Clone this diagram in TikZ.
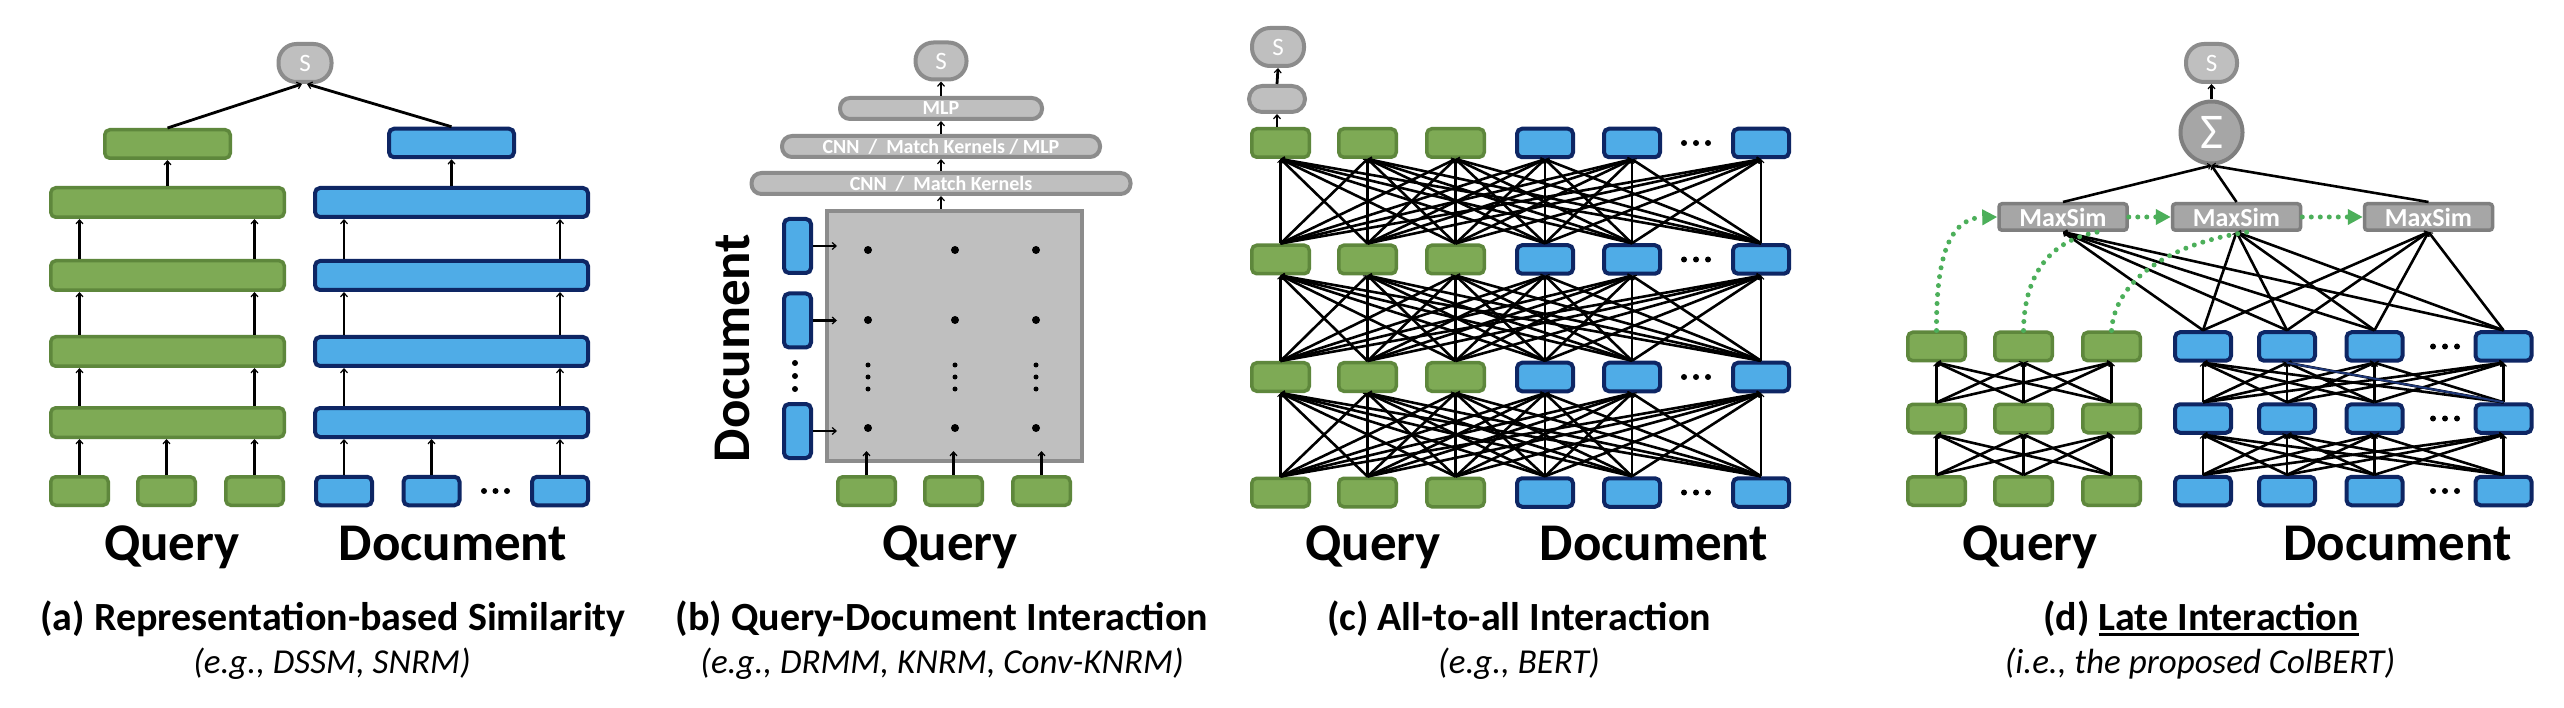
\documentclass[tikz,border=0pt]{standalone}
\usepackage{fontspec}
\setmainfont{Carlito}
\usetikzlibrary{arrows.meta,calc}
\definecolor{gfill}{RGB}{126,170,85}
\definecolor{gline}{RGB}{94,135,60}
\definecolor{bfill}{RGB}{79,172,231}
\definecolor{bline}{RGB}{14,38,100}
\definecolor{sfill}{RGB}{191,191,191}
\definecolor{sline}{RGB}{140,140,140}
\definecolor{mfill}{RGB}{166,166,166}
\definecolor{mline}{RGB}{127,127,127}
\definecolor{dotgreen}{RGB}{76,175,90}
\definecolor{navyl}{RGB}{31,56,120}
\newcommand{\myfs}[1]{\fontsize{#1}{#1}\selectfont}
\newsavebox\myulbox
\newcommand{\myul}[1]{\sbox\myulbox{#1}\rlap{\rule[-6pt]{\wd\myulbox}{3pt}}\usebox\myulbox}
\tikzset{
  gbox/.style={draw=gline, fill=gfill, line width=3.5pt, rounded corners=5pt, inner sep=0pt, minimum width=57.5pt, minimum height=28.5pt},
  bbox/.style={gbox, draw=bline, fill=bfill, line width=4pt},
  oval/.style={draw=sline, fill=sfill, line width=4pt, rounded corners=18pt, inner sep=0pt, text=white, font=\myfs{25}},
  pill/.style={draw=sline, fill=sfill, line width=4pt, rounded corners=10pt, inner sep=0pt, text=white, font=\bfseries\myfs{20}, minimum height=21pt},
  msim/.style={draw=mline, fill=mfill, line width=3.5pt, rounded corners=3pt, inner sep=0pt, text=white, font=\bfseries\myfs{26}, minimum width=128pt, minimum height=26.5pt},
  arr/.style={line width=2.8pt, -{Straight Barb[length=4pt,width=7pt,line width=1.2pt]}},
  lnk/.style={line width=2.6pt, -{Straight Barb[length=3pt,width=6pt,line width=1pt]}},
  lbl/.style={font=\bfseries\myfs{53}, anchor=base, inner sep=0pt},
  captxt/.style={font=\bfseries\myfs{40}, anchor=base, inner sep=0pt},
  subcap/.style={font=\itshape\myfs{35}, anchor=base, inner sep=0pt},
  gdot/.style={draw=dotgreen, line width=5pt, dash pattern=on 0pt off 9pt, line cap=round},
  gtip/.style={-{Triangle[length=15pt,width=15pt]}}
}
\begin{document}
\begin{tikzpicture}[x=1pt,y=-1pt]
\useasboundingbox (0,0) rectangle (2564,708);
\fill[white] (0,0) rectangle (2564,708);

% ================= (a) =================
\node[oval, minimum width=53pt, minimum height=38pt] (aS) at (305,63) {S};
\node[gbox, minimum width=125.5pt] (agt) at (167.5,144) {};
\node[bbox, minimum width=125pt] (adt) at (451.5,143) {};
\foreach \i/\y in {1/202.5,2/275.5,3/351.5,4/422.5} {
  \node[gbox, minimum width=233.5pt, minimum height=29.5pt] (ag\i) at (167.5,\y) {};
  \node[bbox, minimum width=273pt, minimum height=29pt] (ab\i) at (451.5,\y) {};
}
\node[gbox] (aq1) at (79.5,491) {};
\node[gbox] (aq2) at (166.5,491) {};
\node[gbox] (aq3) at (254.5,491) {};
\node[bbox, minimum width=56pt] (ad1) at (344,491) {};
\node[bbox, minimum width=56pt] (ad2) at (431.5,491) {};
\node[bbox, minimum width=56pt] (ad3) at (560,491) {};
\foreach \x in {484,495.5,507} \fill (\x,491) circle (3pt);
\foreach \n in {aq1,aq2,aq3} \draw[arr] (\n.north) -- (\n.north |- ag4.south);
\foreach \n in {ad1,ad2,ad3} \draw[arr] (\n.north) -- (\n.north |- ab4.south);
\foreach \lo/\hi in {4/3,3/2,2/1} {
  \foreach \n in {aq1,aq3} \draw[arr] (ag\lo.north -| \n.north) -- (ag\hi.south -| \n.north);
  \foreach \n in {ad1,ad3} \draw[arr] (ab\lo.north -| \n.north) -- (ab\hi.south -| \n.north);
}
\draw[arr] (ag1.north -| agt.south) -- (agt.south);
\draw[arr] (ab1.north -| adt.south) -- (adt.south);
\draw[arr] (agt.north) -- ([xshift=-3pt]aS.south);
\draw[arr] (adt.north) -- ([xshift=2pt]aS.south);
\node[lbl] (aQ) at (172,560) {Query};
\node[lbl] (aD) at (453,560) {Document};
\node[captxt] (acap) at (333,630) {(a) Representation-based Similarity};
\node[subcap] (asub) at (332,673) {(e.g., DSSM, SNRM)};

% ================= (b) =================
\node[oval, minimum width=51pt, minimum height=37pt] (bS) at (941,61) {S};
\node[pill, minimum width=202pt] (bmlp) at (941,108.5) {MLP};
\node[pill, minimum width=318pt] (bc2) at (941,146.5) {CNN\ \ /\ \ Match Kernels / MLP};
\node[pill, minimum width=379pt] (bc1) at (941,183.5) {CNN\ \ /\ \ Match Kernels};
\node[draw=sline, fill=sfill, line width=4pt, minimum width=255pt, minimum height=250pt, inner sep=0pt] (bM) at (954.5,336) {};
\node[bbox, minimum width=27pt, minimum height=54pt] (bd1) at (797.5,246) {};
\node[bbox, minimum width=27pt, minimum height=54pt] (bd2) at (797.5,320.5) {};
\node[bbox, minimum width=27pt, minimum height=54pt] (bd3) at (797.5,431) {};
\foreach \i in {1,2,3} \draw[arr] (bd\i.east) -- ([xshift=12pt]bM.west |- bd\i.east);
\foreach \y in {363,376,389} \fill (795,\y) circle (3pt);
\foreach \x in {868,955,1036} {
  \foreach \y in {250,320,428} \fill (\x,\y) circle (4pt);
  \foreach \y in {365,377,389} \fill (\x,\y) circle (2.5pt);
}
\node[gbox] (bq1) at (866.5,491) {};
\node[gbox] (bq2) at (953.5,491) {};
\node[gbox] (bq3) at (1041.5,491) {};
\foreach \i in {1,2,3} \draw[arr] (bq\i.north) -- ([yshift=12pt]bq\i.north |- bM.south);
\draw[arr] (bc1.south |- bM.north) -- (bc1.south);
\draw[arr] (bc1.north) -- (bc2.south);
\draw[arr] (bc2.north) -- (bmlp.south);
\draw[arr] (bmlp.north) -- (bS.south);
\node[lbl, rotate=90, anchor=center] (bD) at (733,348) {Document};
\node[lbl] (bQ) at (950,560) {Query};
\node[captxt] (bcap) at (942,630) {(b) Query-Document Interaction};
\node[subcap] (bsub) at (942,673) {(e.g., DRMM, KNRM, Conv-KNRM)};

% ================= (c) =================
\node[oval, minimum width=52pt, minimum height=38pt] (cS) at (1278,47) {S};
\node[oval, minimum width=56pt, minimum height=26pt, rounded corners=13pt] (cP) at (1277,99) {};
\foreach \r/\y in {1/143,2/259.5,3/377,4/492.5} {
  \foreach \k/\x in {1/1280.5,2/1367.5,3/1455.5}
    \node[gbox] (c\r\k) at (\x,\y) {};
  \foreach \k/\x in {4/1545,5/1632,6/1761}
    \node[bbox, minimum width=56pt] (c\r\k) at (\x,\y) {};
  \foreach \x in {1684,1696,1708} \fill (\x,\y) circle (3pt);
}
\foreach \r/\s in {1/2,2/3,3/4}
  \foreach \i in {1,...,6}
    \foreach \j in {1,...,6}
      \draw[lnk] (c\s\i.north) -- (c\r\j.south);
\draw[arr] (cP.south |- c11.north) -- (cP.south);
\draw[arr] (cP.north) -- (cS.south);
\node[lbl] (cQ) at (1373,560) {Query};
\node[lbl] (cD) at (1654,560) {Document};
\node[captxt] (ccap) at (1519,630) {(c) All-to-all Interaction};
\node[subcap] (csub) at (1519,673) {(e.g., BERT)};

% ================= (d) =================
\node[oval, minimum width=51pt, minimum height=38pt] (dS) at (2211.5,63) {S};
\node[circle, draw=mline, fill=mfill, line width=4pt, minimum size=62pt, inner sep=0pt, text=white, font=\myfs{50}] (dSig) at (2211.5,132.5) {Σ};
\node[msim] (m1) at (2063,217) {MaxSim};
\node[msim] (m2) at (2236.5,217) {MaxSim};
\node[msim] (m3) at (2428.5,217) {MaxSim};
\foreach \r/\y in {1/346.5,2/418.5,3/491} {
  \foreach \k/\x in {1/1936.5,2/2023.5,3/2111.5}
    \node[gbox] (q\r\k) at (\x,\y) {};
  \foreach \k/\x in {1/2203,2/2287,3/2374.5,4/2503.5}
    \node[bbox, minimum width=56pt] (p\r\k) at (\x,\y) {};
  \foreach \x in {2433,2445,2457} \fill (\x,\y) circle (3pt);
}
\foreach \r/\s in {1/2,2/3} {
  \foreach \i in {1,2,3}
    \foreach \j in {1,2,3}
      \draw[lnk] (q\s\i.north) -- (q\r\j.south);
  \foreach \i in {1,...,4}
    \foreach \j in {1,...,4}
      \draw[lnk] (p\s\i.north) -- (p\r\j.south);
}
\draw[navyl, line width=2pt] (p12.south) -- (p24.north);
\foreach \i in {1,...,4}
  \foreach \j in {1,2,3}
    \draw[lnk] (p1\i.north) -- (m\j.south);
\foreach \j in {1,2,3} \draw[lnk] (m\j.north) -- (dSig.south);
\draw[arr] (dSig.north) -- (dS.south);
\draw[gdot, gtip] (q11.north) .. controls (1936,255) and (1950,218) .. (m1.west);
\draw[gdot] (q12.north) .. controls (2024,275) and (2050,240) .. ([xshift=35pt]m1.south);
\draw[gdot] (q13.north) .. controls (2115,280) and (2170,243) .. ([xshift=12pt]m2.south);
\draw[gdot, gtip] (m1.east) -- (m2.west);
\draw[gdot, gtip] (m2.east) -- (m3.west);
\node[lbl] (dQ) at (2030,560) {Query};
\node[lbl] (dD) at (2397.5,560) {Document};
\node[captxt] (dcap) at (2201,630) {(d) \myul{Late Interaction}};
\node[subcap] (dsub) at (2200,673) {(i.e., the proposed ColBERT)};
\end{tikzpicture}
\end{document}
